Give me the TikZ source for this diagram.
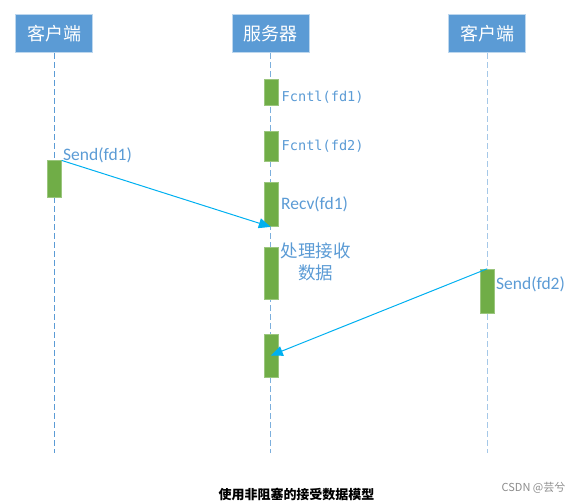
\documentclass[tikz,border=0pt]{standalone}
\usepackage{fontspec}
\setmainfont{Carlito}
\newfontfamily\cjk{Noto Sans CJK SC}
\newfontfamily\codefont{DejaVu Sans Mono}
\usetikzlibrary{arrows.meta,positioning}

\definecolor{hdrblue}{HTML}{5B9BD5}
\definecolor{hdredge}{HTML}{BDD7EE}
\definecolor{actgreen}{HTML}{70AD47}
\definecolor{msgcyan}{HTML}{00B0F0}
\definecolor{lblblue}{HTML}{5B9BD5}

\tikzset{
  hdr/.style={rectangle,fill=hdrblue,draw=hdredge,line width=1.2pt,
    minimum width=77pt,minimum height=38pt,inner sep=0pt,
    text=white,font=\cjk\fontsize{18}{20}\selectfont},
  life/.style={dash pattern=on 6pt off 3pt,line width=1.2pt},
  act/.style={rectangle,fill=actgreen,draw=actgreen!70!white,line width=0.5pt,
    minimum width=14pt,inner sep=0pt},
  msg/.style={draw=msgcyan,line width=1pt,-{Triangle[length=12pt,width=10pt]}},
  code/.style={anchor=west,inner sep=0pt,text=lblblue,font=\codefont\fontsize{13.6}{16}\selectfont},
  lbl/.style={anchor=west,inner sep=0pt,text=lblblue,font=\fontsize{17.5}{20}\selectfont},
}

\begin{document}
\begin{tikzpicture}[x=1pt,y=-1pt]
    \useasboundingbox (0,0) rectangle (582,504);
    % Deltagere
    \node[hdr] (cli1) at (54.2,33.7) {客户端};
    \node[hdr] (srv) at (270.8,33.7) {服务器};
    \node[hdr] (cli2) at (487.3,33.7) {客户端};
    % Livslinjer
    \coordinate (cli1end) at (54.2,453);
    \coordinate (srvend) at (270.8,453);
    \coordinate (cli2end) at (487.3,453);
    \draw[life,hdrblue] (cli1) -- (cli1end);
    \draw[life,hdrblue!80] (srv) -- (srvend);
    \draw[life,hdrblue!55] (cli2) -- (cli2end);
    % Aktiveringer
    \node[act,minimum height=26.3pt] (fc1) at (270.8,92.2) {};
    \node[act,minimum height=30.3pt] (fc2) at (270.8,145.9) {};
    \node[act,minimum height=44.7pt] (recv) at (270.8,204.3) {};
    \node[act,minimum height=52.4pt] (proc) at (270.8,273.5) {};
    \node[act,minimum height=43pt] (back) at (270.8,355.5) {};
    \node[act,minimum height=36.6pt] (snd1) at (54.5,179) {};
    \node[act,minimum height=43.7pt] (snd2) at (487.2,290.9) {};
    % Beskeder
    \draw[msg] (snd1.north east) -- (recv.south);
    \draw[msg] (snd2.north) -- (back.center);
    % Tekster
    \node[code] (lfc1) at (281.5,97) {Fcntl(fd1)};
    \node[code] (lfc2) at (281.5,146) {Fcntl(fd2)};
    \node[lbl] (lsnd1) at (63,155) {Send(fd1)};
    \node[lbl] (lrecv) at (281,204) {Recv(fd1)};
    \node[lbl] (lsnd2) at (496,284) {Send(fd2)};
    \node[text=lblblue,align=center,inner sep=0pt,
      font=\cjk\fontsize{17.5}{21.5}\selectfont] (lproc) at (315.5,262) {处理接收\\数据};
    % Billedtekst
    \node[font=\cjk\bfseries\fontsize{13}{15}\selectfont,inner sep=0pt] (cap) at (296.5,494.5) {使用非阻塞的接受数据模型};
    \node[font=\cjk\fontsize{11}{13}\selectfont,text=black!45,inner sep=0pt] (wm) at (533.5,488) {CSDN @芸兮};
\end{tikzpicture}
\end{document}
